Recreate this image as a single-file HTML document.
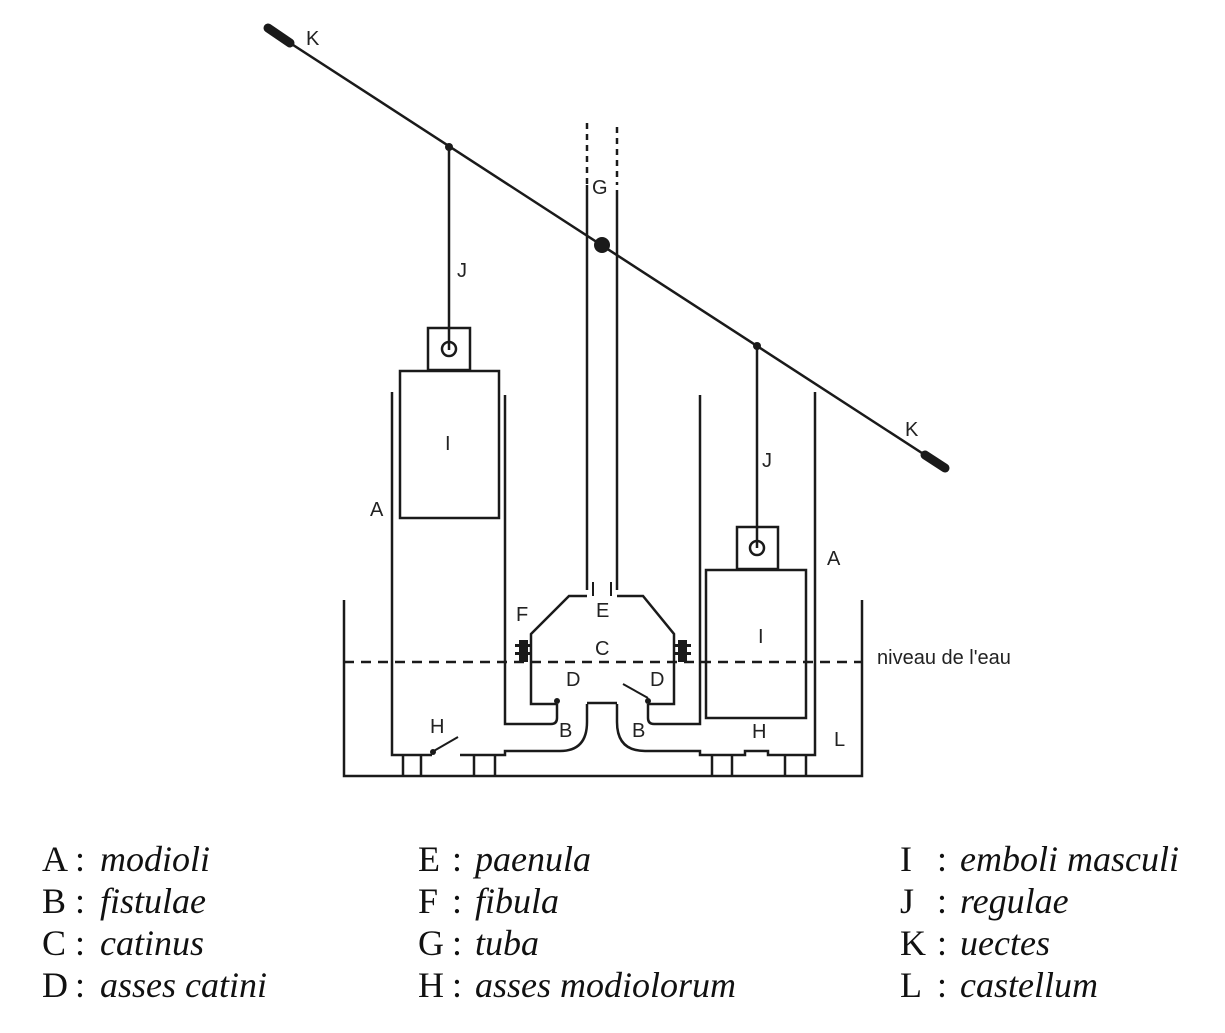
<!DOCTYPE html>
<html><head><meta charset="utf-8"><style>
body{margin:0;background:#fff;}
svg{display:block}
.l{font-family:"Liberation Sans",sans-serif;font-size:20px;fill:#222}
.t{font-family:"Liberation Serif",serif;font-size:36px;fill:#111}
.i{font-style:italic}
</style></head><body>
<svg width="1225" height="1033" viewBox="0 0 1225 1033" xmlns="http://www.w3.org/2000/svg">
<g stroke="#1a1a1a" stroke-width="2.5" fill="none">
<line x1="270" y1="30" x2="945" y2="468"/>
<line x1="268" y1="28" x2="290" y2="43" stroke-width="9" stroke-linecap="round"/>
<line x1="925" y1="455" x2="945" y2="468" stroke-width="9" stroke-linecap="round"/>
<line x1="587" y1="123" x2="587" y2="185" stroke-dasharray="6,5"/>
<line x1="617" y1="127" x2="617" y2="185" stroke-dasharray="6,5"/>
<line x1="587" y1="185" x2="587" y2="590"/>
<line x1="617" y1="190" x2="617" y2="590"/>
<line x1="449" y1="147" x2="449" y2="350"/>
<rect x="428" y="328" width="42" height="42"/>
<circle cx="449" cy="349" r="7"/>
<rect x="400" y="371" width="99" height="147"/>
<line x1="757" y1="346" x2="757" y2="548"/>
<rect x="737" y="527" width="41" height="42"/>
<circle cx="757" cy="548" r="7"/>
<rect x="706" y="570" width="100" height="148"/>
<path d="M392,392 L392,755 L432,755"/>
<path d="M505,395 L505,724 L551,724 Q557,724 557,718 L557,704"/>
<path d="M700,395 L700,724 L654,724 Q648,724 648,718 L648,704"/>
<path d="M815,392 L815,755 L768,755 L768,751 L745,751 L745,755 L700,755 L700,751 L645,751 Q617,751 617,722 L617,704"/>
<path d="M460,755 L505,755 L505,751 L560,751 Q587,751 587,722 L587,704"/>
<polyline points="557,704 531,704 531,634 569,596 587,596"/>
<polyline points="648,704 674,704 674,634 643,596 617,596"/>
<line x1="587" y1="703" x2="617" y2="703"/>
<line x1="593" y1="582" x2="593" y2="596" stroke-width="2"/>
<line x1="611" y1="582" x2="611" y2="596" stroke-width="2"/>
<line x1="623" y1="684" x2="648" y2="698" stroke-width="2"/>
<line x1="432" y1="752" x2="458" y2="737" stroke-width="2"/>
<polyline points="344,600 344,776 862,776 862,600"/>
<line x1="403" y1="755" x2="403" y2="776"/><line x1="421" y1="755" x2="421" y2="776"/>
<line x1="474" y1="755" x2="474" y2="776"/><line x1="495" y1="755" x2="495" y2="776"/>
<line x1="712" y1="755" x2="712" y2="776"/><line x1="732" y1="755" x2="732" y2="776"/>
<line x1="785" y1="755" x2="785" y2="776"/><line x1="806" y1="755" x2="806" y2="776"/>
<line x1="344" y1="662" x2="862" y2="662" stroke-dasharray="10,7"/>
</g>
<g fill="#1a1a1a">
<circle cx="449" cy="147" r="4"/>
<circle cx="757" cy="346" r="4"/>
<circle cx="602" cy="245" r="8"/>
<rect x="519" y="640" width="9" height="22"/>
<rect x="515" y="644" width="16" height="3"/>
<rect x="515" y="652" width="16" height="3"/>
<rect x="678" y="640" width="9" height="22"/>
<rect x="675" y="644" width="16" height="3"/>
<rect x="675" y="652" width="16" height="3"/>
<circle cx="557" cy="701" r="3"/><circle cx="648" cy="701" r="3"/>
<circle cx="433" cy="752" r="3"/>
</g>
<g class="l">
<text x="306" y="45">K</text>
<text x="905" y="436">K</text>
<text x="592" y="194">G</text>
<text x="457" y="277">J</text>
<text x="762" y="467">J</text>
<text x="445" y="450">I</text>
<text x="758" y="643">I</text>
<text x="370" y="516">A</text>
<text x="827" y="565">A</text>
<text x="516" y="621">F</text>
<text x="596" y="617">E</text>
<text x="595" y="655">C</text>
<text x="566" y="686">D</text>
<text x="650" y="686">D</text>
<text x="559" y="737">B</text>
<text x="632" y="737">B</text>
<text x="430" y="733">H</text>
<text x="752" y="738">H</text>
<text x="834" y="746">L</text>
<text x="877" y="664">niveau de l'eau</text>
</g>
<g class="t">
<text x="42" y="871">A</text><text x="75" y="871">:</text><text class="i" x="100" y="871">modioli</text>
<text x="42" y="913">B</text><text x="75" y="913">:</text><text class="i" x="100" y="913">fistulae</text>
<text x="42" y="955">C</text><text x="75" y="955">:</text><text class="i" x="100" y="955">catinus</text>
<text x="42" y="997">D</text><text x="75" y="997">:</text><text class="i" x="100" y="997">asses catini</text>
<text x="418" y="871">E</text><text x="452" y="871">:</text><text class="i" x="475" y="871">paenula</text>
<text x="418" y="913">F</text><text x="452" y="913">:</text><text class="i" x="475" y="913">fibula</text>
<text x="418" y="955">G</text><text x="452" y="955">:</text><text class="i" x="475" y="955">tuba</text>
<text x="418" y="997">H</text><text x="452" y="997">:</text><text class="i" x="475" y="997">asses modiolorum</text>
<text x="900" y="871">I</text><text x="937" y="871">:</text><text class="i" x="960" y="871">emboli masculi</text>
<text x="900" y="913">J</text><text x="937" y="913">:</text><text class="i" x="960" y="913">regulae</text>
<text x="900" y="955">K</text><text x="937" y="955">:</text><text class="i" x="960" y="955">uectes</text>
<text x="900" y="997">L</text><text x="937" y="997">:</text><text class="i" x="960" y="997">castellum</text>
</g>
</svg>
</body></html>
